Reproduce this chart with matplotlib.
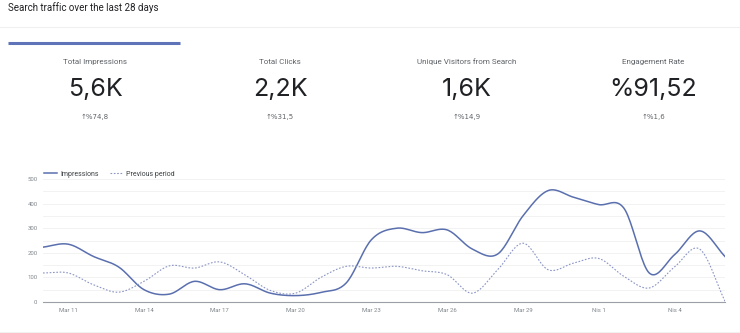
import numpy as np
import matplotlib.pyplot as plt
from matplotlib.lines import Line2D

plt.rcParams['font.family'] = ['Roboto', 'DejaVu Sans']

# data
days = list(range(28))  # Mar 10 .. Apr 6
tick_pos = [1, 4, 7, 10, 13, 16, 19, 22, 25]
tick_labels = ['Mar 11', 'Mar 14', 'Mar 17', 'Mar 20', 'Mar 23', 'Mar 26', 'Mar 29', 'Nis 1', 'Nis 4']
impressions = [223, 235, 185, 142, 50, 32, 84, 50, 74, 36, 26, 39, 77, 253,
               300, 282, 293, 215, 195, 350, 453, 426, 396, 381, 118, 192, 289, 185]
previous = [118, 118, 70, 40, 84, 147, 138, 163, 110, 47, 36, 100, 145, 138,
            145, 127, 111, 36, 131, 239, 131, 158, 177, 104, 57, 142, 215, 3]

card_titles = ['Total Impressions', 'Total Clicks', 'Unique Visitors from Search', 'Engagement Rate']
card_values = ['5,6K', '2,2K', '1,6K', '%91,52']
card_changes = ['%74,8', '%31,5', '%14,9', '%1,6']

BLUE = '#5a6fae'
W, H = 740, 333


def smooth(x, y, n=20):
    # catmull-rom spline through the points, just for drawing
    x = np.asarray(x, float)
    y = np.asarray(y, float)
    px = np.concatenate([[2 * x[0] - x[1]], x, [2 * x[-1] - x[-2]]])
    py = np.concatenate([[2 * y[0] - y[1]], y, [2 * y[-1] - y[-2]]])
    xs, ys = [], []
    t = np.linspace(0, 1, n, endpoint=False)
    for i in range(1, len(px) - 2):
        for p, out in ((px, xs), (py, ys)):
            p0, p1, p2, p3 = p[i - 1], p[i], p[i + 1], p[i + 2]
            out.append(0.5 * (2 * p1 + (-p0 + p2) * t + (2 * p0 - 5 * p1 + 4 * p2 - p3) * t ** 2
                              + (-p0 + 3 * p1 - 3 * p2 + p3) * t ** 3))
    xs.append([x[-1]])
    ys.append([y[-1]])
    return np.concatenate(xs), np.concatenate(ys)


fig = plt.figure(figsize=(W / 100, H / 100), dpi=100)

# header and cards, drawn in pixel coords
def px(x, y):
    return x / W, 1 - y / H

fig.text(*px(8, 8), 'Search traffic over the last 28 days', fontsize=7.0, color='#202124', va='center')
fig.add_artist(Line2D([0, 1], [1 - 27 / H] * 2, color='#f0f0f0', lw=0.8))
fig.add_artist(Line2D([8 / W, 180 / W], [1 - 42.5 / H] * 2, color='#5f73b8', lw=2.2, solid_capstyle='butt'))
fig.add_artist(Line2D([0, 1], [1 - 331.5 / H] * 2, color='#f0f0f0', lw=0.8))

centers = [95, 280, 467, 653]
for cx, t, v, c in zip(centers, card_titles, card_values, card_changes):
    fig.text(*px(cx, 62), t, fontsize=5.8, color='#5f6368', ha='center', va='center')
    fig.text(*px(cx, 89), v, fontsize=18, color='#202124', ha='center', va='center',
             family=['Inter', 'DejaVu Sans'])
    fig.text(*px(cx, 117), '\u2191' + c, fontsize=5.0, color='#5f6368', ha='center', va='center',
             family=['DejaVu Sans'])

# chart
ax = fig.add_axes([43 / W, 1 - 302 / H, (725 - 43) / W, (302 - 179) / H])
sx, sy = smooth(days, impressions)
ax.plot(sx, sy, color=BLUE, lw=1.1, label='Impressions')
sx, sy = smooth(days, previous)
ax.plot(sx, sy, color='#8a95c4', lw=0.8, ls=(0, (1.5, 1.5)), label='Previous period')

ax.set_xlim(0, 27)
ax.set_ylim(0, 500)
ax.set_yticks(range(0, 501, 100))
ax.set_yticks(range(50, 500, 100), minor=True)
ax.set_xticks(tick_pos)
ax.set_xticklabels(tick_labels)
ax.grid(axis='y', which='both', color='#f0f0f0', lw=0.6)
ax.tick_params(axis='both', which='both', length=0, labelsize=4.3, labelcolor='#80868b')
ax.tick_params(axis='y', pad=4)
ax.tick_params(axis='x', pad=4)
for s in ['top', 'right', 'left']:
    ax.spines[s].set_visible(False)
ax.spines['bottom'].set_color('#9aa0a6')
ax.spines['bottom'].set_linewidth(0.8)
ax.set_axisbelow(True)

ax.legend(loc='lower left', bbox_to_anchor=(0, 1.0), ncol=2, frameon=False, fontsize=5.0,
          handlelength=1.8, handletextpad=0.5, columnspacing=1.6, borderaxespad=0.1,
          borderpad=0.1, labelcolor='#3c4043')

fig.savefig('out.png', dpi=100, facecolor='white')
